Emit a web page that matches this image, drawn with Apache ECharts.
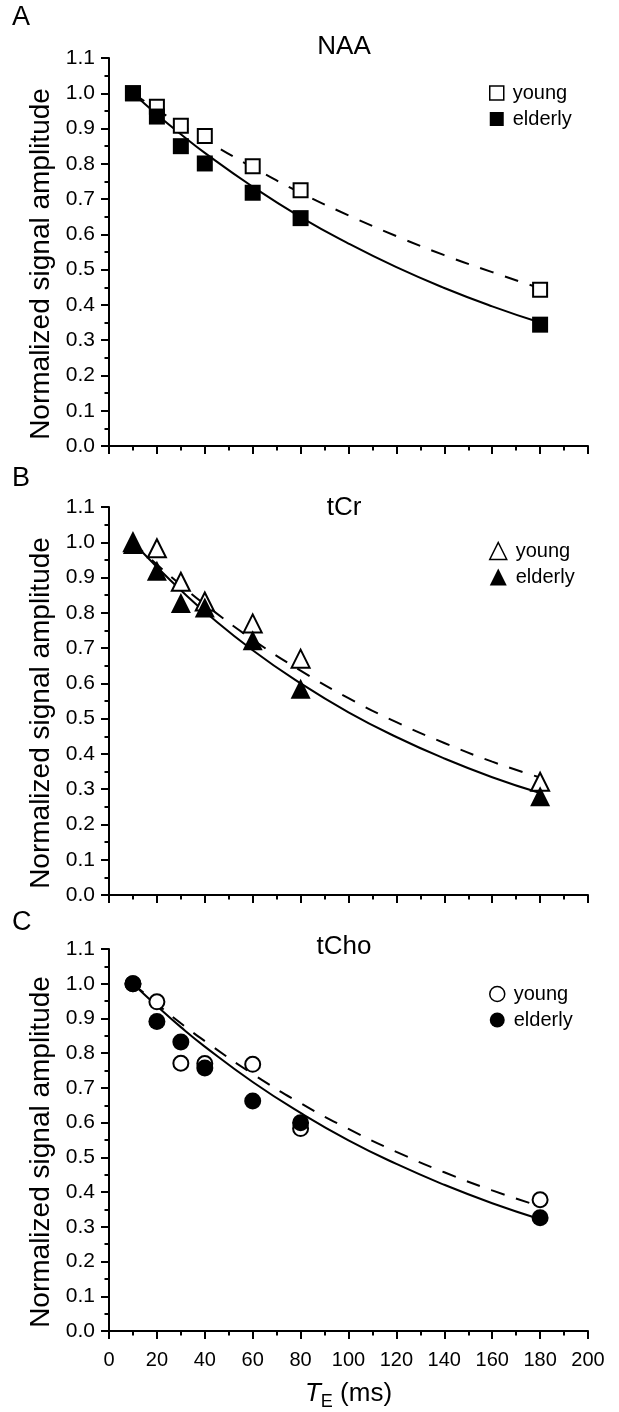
<!DOCTYPE html>
<html>
<head>
<meta charset="utf-8">
<script src="https://cdn.jsdelivr.net/npm/echarts@6/dist/echarts.min.js"></script>
<style>
html,body{margin:0;padding:0;background:#fff;}
#chart{width:619px;height:1412px;}
</style>
</head>
<body>
<div id="chart"></div>
<script>
// ---- data ----
const teX = [10, 20, 30, 40, 60, 80, 180];
const naaYoung   = [1.000, 0.962, 0.908, 0.879, 0.793, 0.725, 0.443];
const naaElderly = [1.000, 0.934, 0.850, 0.801, 0.718, 0.646, 0.344];
const tcrYoung   = [1.000, 0.983, 0.888, 0.832, 0.770, 0.670, 0.321];
const tcrElderly = [0.995, 0.919, 0.828, 0.815, 0.722, 0.585, 0.280];
const tchoYoung   = [1.000, 0.948, 0.771, 0.770, 0.768, 0.583, 0.378];
const tchoElderly = [1.000, 0.891, 0.832, 0.757, 0.662, 0.600, 0.326];

const fitX = [10, 20, 30, 40, 60, 80, 100, 120, 140, 160, 180];
const naaYoungFit   = [1.000, 0.954, 0.910, 0.868, 0.790, 0.718, 0.654, 0.595, 0.541, 0.493, 0.447];
const naaElderlyFit = [1.000, 0.940, 0.884, 0.831, 0.735, 0.649, 0.574, 0.507, 0.448, 0.396, 0.350];
const tcrYoungFit   = [1.000, 0.937, 0.879, 0.824, 0.724, 0.636, 0.558, 0.490, 0.431, 0.378, 0.333];
const tcrElderlyFit = [1.000, 0.930, 0.864, 0.803, 0.694, 0.600, 0.518, 0.448, 0.387, 0.334, 0.289];
const tchoYoungFit   = [1.000, 0.942, 0.886, 0.835, 0.740, 0.656, 0.582, 0.516, 0.457, 0.405, 0.359];
const tchoElderlyFit = [1.000, 0.936, 0.875, 0.819, 0.717, 0.628, 0.549, 0.481, 0.421, 0.368, 0.322];

const panelTitles = ['NAA', 'tCr', 'tCho'];
const panelLetters = ['A', 'B', 'C'];
const groupNames = ['young', 'elderly'];
const xTicks = {min: 0, max: 200, interval: 20};
const yTicks = {min: 0, max: 1.1, interval: 0.1};
const yName = 'Normalized signal amplitude';

// ---- build ----
const FONT = '"Liberation Sans", Arial, Helvetica, sans-serif';
const panels = [
  {title: panelTitles[0], young: naaYoung, elderly: naaElderly, yFit: naaYoungFit, eFit: naaElderlyFit, symbol: 'rect', size: 16, ysize: 14, legendSize: 14},
  {title: panelTitles[1], young: tcrYoung, elderly: tcrElderly, yFit: tcrYoungFit, eFit: tcrElderlyFit, symbol: 'triangle', size: 20, ysize: 18, legendSize: 17},
  {title: panelTitles[2], young: tchoYoung, elderly: tchoElderly, yFit: tchoYoungFit, eFit: tchoElderlyFit, symbol: 'circle', size: 17, ysize: 15, legendSize: 15}
];
const grids = [
  {left: 109, top: 58, width: 479, height: 388},
  {left: 109, top: 507, width: 479, height: 388},
  {left: 109, top: 949, width: 479, height: 387}
];
const titleTops = [34, 495, 934];
const letterTops = [4, 465, 909];
const legendTops = [83, 541, 984];

const pair = (xs, ys) => xs.map((x, i) => [x, ys[i]]);
const hollow = {color: '#fff', borderColor: '#000', borderWidth: 2, opacity: 1};
const filled = {color: '#000', borderColor: '#000', borderWidth: 0, opacity: 1};

const title = [], xAxis = [], yAxis = [], series = [], legend = [];
panels.forEach((p, i) => {
  title.push({text: p.title, left: 344, top: titleTops[i], textAlign: 'center', padding: 0,
    textStyle: {fontSize: 26, fontWeight: 'normal', color: '#000', fontFamily: FONT}});
  title.push({text: panelLetters[i], left: 12, top: letterTops[i], padding: 0,
    textStyle: {fontSize: 27, fontWeight: 'normal', color: '#000', fontFamily: FONT}});
  const last = i === 2;
  xAxis.push({
    type: 'value', gridIndex: i, min: xTicks.min, max: xTicks.max, interval: xTicks.interval,
    axisLine: {show: true, onZero: false, lineStyle: {color: '#000', width: 2}},
    axisTick: {show: true, length: 8, lineStyle: {color: '#000', width: 2}},
    minorTick: {show: true, splitNumber: 2, length: 4.5, lineStyle: {color: '#000', width: 2}},
    splitLine: {show: false},
    axisLabel: {show: last, fontSize: 20, color: '#000', margin: 19, fontFamily: FONT},
    name: last ? '{t|T}{e|E} (ms)' : '',
    nameLocation: 'middle', nameGap: 46,
    nameTextStyle: {fontSize: 26, color: '#000', fontFamily: FONT,
      rich: {t: {fontSize: 26, fontStyle: 'italic', fontFamily: FONT, color: '#000'},
             e: {fontSize: 18, fontFamily: FONT, color: '#000', padding: [16, 0, 0, 0]}}}
  });
  yAxis.push({
    type: 'value', gridIndex: i, min: yTicks.min, max: yTicks.max, interval: yTicks.interval,
    axisLine: {show: true, onZero: false, lineStyle: {color: '#000', width: 2}},
    axisTick: {show: true, length: 8, lineStyle: {color: '#000', width: 2}},
    minorTick: {show: true, splitNumber: 2, length: 4.5, lineStyle: {color: '#000', width: 2}},
    splitLine: {show: false},
    axisLabel: {fontSize: 21, color: '#000', margin: 14, fontFamily: FONT, formatter: v => v.toFixed(1)},
    name: yName, nameLocation: 'middle', nameRotate: 90, nameGap: 53,
    nameTextStyle: {fontSize: 28, color: '#000', fontFamily: FONT, padding: [0, 24, 0, 0]}
  });
  const yn = p.title + ' ' + groupNames[0];
  const en = p.title + ' ' + groupNames[1];
  series.push({type: 'line', name: yn + ' fit', xAxisIndex: i, yAxisIndex: i, data: pair(fitX, p.yFit),
    smooth: true, showSymbol: false, symbol: 'none', z: 2,
    lineStyle: {color: '#000', width: 2, type: [14, 12]}});
  series.push({type: 'line', name: en + ' fit', xAxisIndex: i, yAxisIndex: i, data: pair(fitX, p.eFit),
    smooth: true, showSymbol: false, symbol: 'none', z: 2,
    lineStyle: {color: '#000', width: 2, type: 'solid'}});
  series.push({type: 'scatter', name: yn, xAxisIndex: i, yAxisIndex: i, data: pair(teX, p.young),
    symbol: p.symbol, symbolSize: p.ysize, z: 3, itemStyle: hollow});
  series.push({type: 'scatter', name: en, xAxisIndex: i, yAxisIndex: i, data: pair(teX, p.elderly),
    symbol: p.symbol, symbolSize: p.size, z: 4, itemStyle: filled});
  legend.push({
    orient: 'vertical', left: 489, top: legendTops[i], itemWidth: p.legendSize, itemHeight: p.legendSize,
    itemGap: 6, selectedMode: false, padding: 0,
    formatter: n => n.split(' ')[1],
    textStyle: {fontSize: 20, color: '#000', fontFamily: FONT, padding: [0, 0, 0, 4]},
    data: [
      {name: yn, icon: p.symbol, itemStyle: {color: '#fff', borderColor: '#000', borderWidth: 1.5, opacity: 1}},
      {name: en, icon: p.symbol, itemStyle: {color: '#000', borderColor: '#000', borderWidth: 0, opacity: 1}}
    ]
  });
});

const chart = echarts.init(document.getElementById('chart'), null, {renderer: 'canvas'});
chart.setOption({
  backgroundColor: '#fff',
  animation: false,
  title, legend, grid: grids, xAxis, yAxis, series
});
</script>
</body>
</html>
